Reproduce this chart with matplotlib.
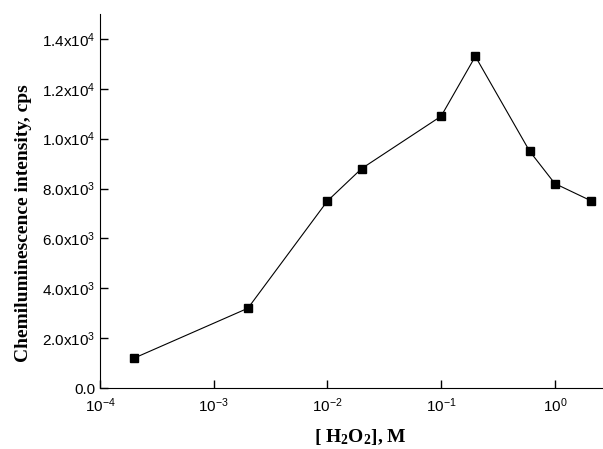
import matplotlib
matplotlib.use("Agg")
import matplotlib.pyplot as plt
from matplotlib.ticker import FuncFormatter, LogLocator, NullLocator

# H2O2 concentration (M) and chemiluminescence intensity (cps)
conc = [2e-4, 2e-3, 1e-2, 2e-2, 1e-1, 2e-1, 6e-1, 1.0, 2.1]
intensity = [1200, 3200, 7500, 8800, 10900, 13300, 9500, 8200, 7500]

y_ticks = [0, 2000, 4000, 6000, 8000, 10000, 12000, 14000]

plt.rcParams["font.family"] = ["Liberation Sans", "DejaVu Sans"]
plt.rcParams["mathtext.default"] = "regular"


def ylab(v, pos):
    """format as 1.4x10^4"""
    if v == 0:
        return "0.0"
    exp = 0
    m = v
    while m >= 10:
        m /= 10
        exp += 1
    return "%.1fx10$^{%d}$" % (m, exp)


fig = plt.figure(figsize=(6.03, 4.49), dpi=100)
ax = fig.add_axes([100 / 603, 1 - 388 / 449, 502 / 603, 374 / 449])
ax.plot(conc, intensity, color="black", lw=0.8, marker="s", ms=5.5,
        markerfacecolor="black", markeredgecolor="black")
ax.set_xscale("log")
ax.set_xlim(1e-4, 2.6)
ax.set_ylim(0, 15000)
ax.xaxis.set_major_locator(LogLocator(base=10, numticks=10))
ax.xaxis.set_minor_locator(NullLocator())
ax.set_yticks(y_ticks)
ax.yaxis.set_major_formatter(FuncFormatter(ylab))
ax.spines["top"].set_visible(False)
ax.spines["right"].set_visible(False)
ax.tick_params(direction="in", length=6, width=1, labelsize=11, colors="black")
ax.tick_params(axis="x", pad=6)

ax.set_xlabel("[ H$_2$O$_2$], M", fontsize=14, fontweight="bold",
              family="Liberation Serif")
ax.set_ylabel("Chemiluminescence intensity, cps", fontsize=14,
              fontweight="bold", family="Liberation Serif")
ax.xaxis.set_label_coords(0.518, -0.105)
ax.yaxis.set_label_coords(-0.135, 0.44)

fig.savefig("out.png", dpi=100)
